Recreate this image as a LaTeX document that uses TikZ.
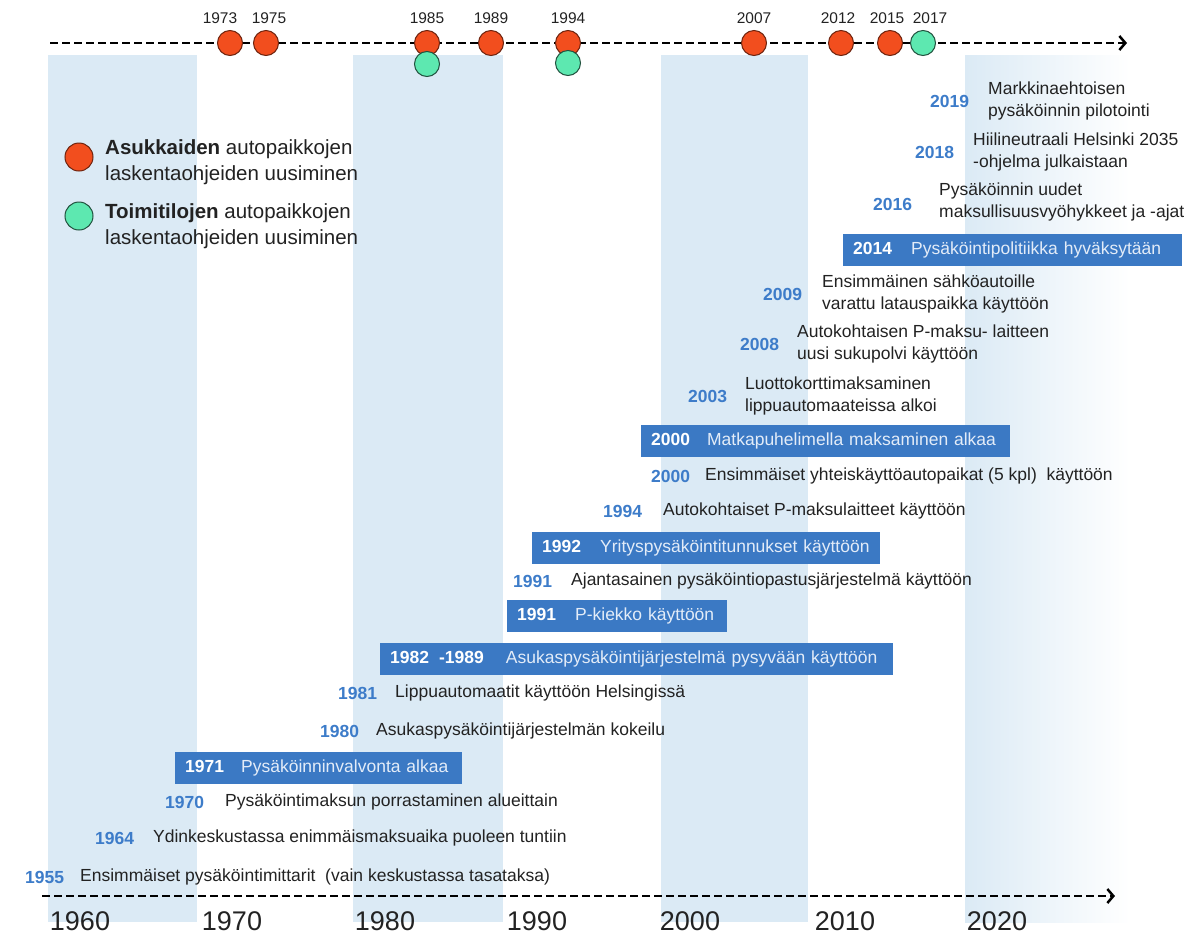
\documentclass[tikz,border=0pt]{standalone}
\usepackage{fontspec}
\setmainfont{Liberation Sans}
\usetikzlibrary{arrows.meta}
\definecolor{band}{HTML}{DBEAF5}
\definecolor{barblue}{HTML}{3B79C4}
\definecolor{yrblue}{HTML}{3D7CC9}
\definecolor{asred}{HTML}{F24E1E}
\definecolor{tomint}{HTML}{5DE8B0}
\definecolor{ink}{HTML}{222222}
\definecolor{barink}{HTML}{E3ECF8}
\begin{document}
\begin{tikzpicture}[x=1pt,y=-1pt,
	axis/.style={line width=2.5pt,dash pattern=on 8pt off 4pt,-{Straight Barb[length=6pt,width=14pt,line width=2.5pt]}},
	asuk/.style={circle,draw=asred!45!black,fill=asred,line width=1pt,minimum size=25pt,inner sep=0pt},
	toim/.style={circle,draw=tomint!35!black,fill=tomint,line width=1pt,minimum size=25pt,inner sep=0pt},
	tyr/.style={inner sep=0pt,text=ink,font=\fontsize{15.5}{18}\selectfont},
	leg/.style={anchor=west,inner sep=0pt,align=left,text=ink,font=\fontsize{20.5}{26}\selectfont},
	yr/.style={anchor=west,inner sep=0pt,text=yrblue,font=\fontsize{17.5}{20}\selectfont\bfseries},
	ev/.style={anchor=west,inner sep=0pt,align=left,text=ink,font=\fontsize{17.5}{21.5}\selectfont},
	bar/.style={anchor=west,fill=barblue,minimum height=32pt,inner xsep=10pt,inner ysep=0pt,align=left,text=barink,font=\fontsize{17.5}{20}\selectfont},
	dec/.style={inner sep=0pt,text=ink,font=\fontsize{27}{29}\selectfont}]
	\useasboundingbox (0,0) rectangle (1195,938);
	% decade bands
	\fill[band] (48,55) rectangle (197,922);
	\fill[band] (353,55) rectangle (503,922);
	\fill[band] (661,55) rectangle (808,922);
	\shade[left color=band,right color=white] (965,55) rectangle (1130,922);
	% top timeline
	\coordinate (ts) at (50,43);
	\coordinate (te) at (1127,43);
	\draw[axis] (ts) -- (te);
	\foreach \x/\lx/\yr in {230/220/1973,266/269/1975,427/427/1985,491/491/1989,568/568/1994,754/754/2007,841/838/2012,890/887/2015} {
		\node[asuk] (r\yr) at (\x,43) {};
		\node[tyr] (l\yr) at (\lx,18) {\yr};
	}
	\node[toim] (g1985) at (427,64) {};
	\node[toim] (g1994) at (568,63) {};
	\node[toim] (g2017) at (923,43) {};
	\node[tyr] (l2017) at (930,18) {2017};
	% legend
	\node[asuk,minimum size=28pt] (kr) at (79,157) {};
	\node[leg] (kra) at (105,162) {\textbf{Asukkaiden} autopaikkojen\\laskentaohjeiden uusiminen};
	\node[toim,minimum size=28pt] (kg) at (79,216) {};
	\node[leg] (kga) at (105,226) {\textbf{Toimitilojen} autopaikkojen\\laskentaohjeiden uusiminen};
	% events
	\node[yr] (y2019) at (930,101) {2019};
	\node[ev] (e2019) at (988,101) {Markkinaehtoisen\\pysäköinnin pilotointi};
	\node[yr] (y2018) at (915,152) {2018};
	\node[ev] (e2018) at (973,152) {Hiilineutraali Helsinki 2035\\-ohjelma julkaistaan};
	\node[yr] (y2016) at (873,204) {2016};
	\node[ev] (e2016) at (939,202) {Pysäköinnin uudet\\maksullisuusvyöhykkeet ja -ajat};
	\node[bar,text width=319pt] (b2014) at (843,250) {\mbox{\textbf{\color{white}2014}\hspace{19pt}Pysäköintipolitiikka hyväksytään}};
	\node[yr] (y2009) at (763,294) {2009};
	\node[ev] (e2009) at (822,294) {Ensimmäinen sähköautoille\\varattu latauspaikka käyttöön};
	\node[yr] (y2008) at (740,344) {2008};
	\node[ev] (e2008) at (797,344) {Autokohtaisen P-maksu- laitteen\\uusi sukupolvi käyttöön};
	\node[yr] (y2003) at (688,396) {2003};
	\node[ev] (e2003) at (745,396) {Luottokorttimaksaminen\\lippuautomaateissa alkoi};
	\node[bar,text width=349pt] (b2000) at (641,441) {\mbox{\textbf{\color{white}2000}\hspace{17pt}Matkapuhelimella maksaminen alkaa}};
	\node[yr] (y2000) at (651,476) {2000};
	\node[ev] (e2000) at (705,476) {Ensimmäiset yhteiskäyttöautopaikat (5 kpl)\ \ käyttöön};
	\node[yr] (y1994) at (603,511) {1994};
	\node[ev] (e1994) at (663,511) {Autokohtaiset P-maksulaitteet käyttöön};
	\node[bar,text width=328pt] (b1992) at (532,548) {\mbox{\textbf{\color{white}1992}\hspace{19pt}Yrityspysäköintitunnukset käyttöön}};
	\node[yr] (y1991) at (513,581) {1991};
	\node[ev] (e1991) at (571,581) {Ajantasainen pysäköintiopastusjärjestelmä käyttöön};
	\node[bar,text width=200pt] (b1991) at (507,616) {\mbox{\textbf{\color{white}1991}\hspace{19pt}P-kiekko käyttöön}};
	\node[bar,text width=493pt] (b1982) at (380,659) {\mbox{\textbf{\color{white}1982\hspace{10pt}-1989}\hspace{22pt}Asukaspysäköintijärjestelmä pysyvään käyttöön}};
	\node[yr] (y1981) at (338,693) {1981};
	\node[ev] (e1981) at (395,693) {Lippuautomaatit käyttöön Helsingissä};
	\node[yr] (y1980) at (320,731) {1980};
	\node[ev] (e1980) at (376,731) {Asukaspysäköintijärjestelmän kokeilu};
	\node[bar,text width=267pt] (b1971) at (175,768) {\mbox{\textbf{\color{white}1971}\hspace{17pt}Pysäköinninvalvonta alkaa}};
	\node[yr] (y1970) at (165,802) {1970};
	\node[ev] (e1970) at (225,802) {Pysäköintimaksun porrastaminen alueittain};
	\node[yr] (y1964) at (95,838) {1964};
	\node[ev] (e1964) at (153,838) {Ydinkeskustassa enimmäismaksuaika puoleen tuntiin};
	\node[yr] (y1955) at (25,877) {1955};
	\node[ev] (e1955) at (80,877) {Ensimmäiset pysäköintimittarit\ \ (vain keskustassa tasataksa)};
	% bottom timeline
	\coordinate (bs) at (42,896);
	\coordinate (be) at (1115,896);
	\draw[axis] (bs) -- (be);
	\foreach \x/\d in {80/1960,232/1970,385/1980,537/1990,690/2000,845/2010,997/2020}
		\node[dec] (d\d) at (\x,921) {\d};
\end{tikzpicture}
\end{document}
